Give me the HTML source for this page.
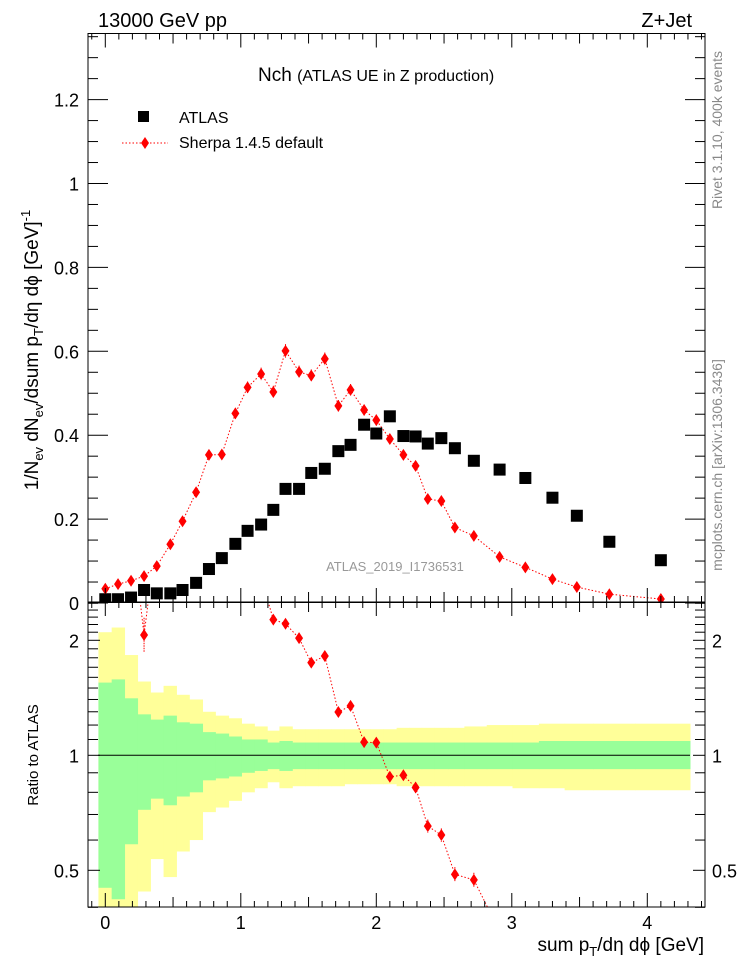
<!DOCTYPE html>
<html><head><meta charset="utf-8"><style>
html,body{margin:0;padding:0;background:#fff;width:746px;height:972px;overflow:hidden}
svg{display:block;font-family:"Liberation Sans",sans-serif;overflow:hidden}
</style></head><body>
<svg id="c" width="746" height="972">
<defs>
<clipPath id="cm"><rect x="88" y="33.5" width="617" height="569"/></clipPath>
<clipPath id="cr"><rect x="88" y="602" width="617" height="305"/></clipPath>
</defs>
<g id="bands" clip-path="url(#cr)"></g>
<g id="marks"></g>
<g id="axes"></g>
<text x="98" y="27" font-size="20">13000 GeV pp</text>
<text x="692" y="27" font-size="20" text-anchor="end">Z+Jet</text>
<text x="258" y="81" font-size="19">Nch <tspan font-size="16">(ATLAS UE in Z production)</tspan></text>
<rect x="138" y="111" width="11" height="11" fill="#000"/>
<text x="179" y="123" font-size="16">ATLAS</text>
<line x1="122" y1="143" x2="168" y2="143" stroke="red" stroke-dasharray="1.5,2"/>
<path d="M145,137 L149,143 L145,149 L141,143Z" fill="red"/>
<text x="179" y="148" font-size="16">Sherpa 1.4.5 default</text>
<text x="395" y="571" font-size="13" fill="#999" text-anchor="middle">ATLAS_2019_I1736531</text>
<text transform="translate(38,350) rotate(-90)" font-size="19" text-anchor="middle">1/N<tspan font-size="13" dy="5">ev</tspan><tspan dy="-5"> dN</tspan><tspan font-size="13" dy="5">ev</tspan><tspan dy="-5">/dsum p</tspan><tspan font-size="13" dy="5">T</tspan><tspan dy="-5">/dη dϕ  [GeV]</tspan><tspan font-size="13" dy="-8">-1</tspan></text>
<text transform="translate(38,755) rotate(-90)" font-size="15" text-anchor="middle">Ratio to ATLAS</text>
<text x="704" y="951" font-size="19" text-anchor="end">sum p<tspan font-size="13" dy="5">T</tspan><tspan dy="-5">/dη dϕ [GeV]</tspan></text>
<text transform="translate(722,130) rotate(-90)" font-size="14" fill="#888" text-anchor="middle">Rivet 3.1.10,  400k events</text>
<text transform="translate(722,465) rotate(-90)" font-size="14" fill="#888" text-anchor="middle">mcplots.cern.ch [arXiv:1306.3436]</text>
</svg>
<script>
const xs=[0,0.094,0.19,0.286,0.38,0.48,0.57,0.67,0.765,0.86,0.96,1.05,1.15,1.24,1.33,1.43,1.52,1.62,1.72,1.81,1.91,2.0,2.1,2.2,2.29,2.38,2.48,2.58,2.72,2.91,3.1,3.3,3.48,3.72,4.1];
const atlas=[0.009,0.009,0.013,0.031,0.023,0.023,0.031,0.048,0.081,0.107,0.141,0.172,0.187,0.222,0.272,0.272,0.31,0.32,0.362,0.377,0.425,0.404,0.445,0.398,0.397,0.38,0.393,0.369,0.339,0.318,0.298,0.251,0.208,0.146,0.102];
const sherpa=[0.034,0.045,0.053,0.064,0.088,0.14,0.195,0.264,0.353,0.354,0.452,0.514,0.546,0.503,0.601,0.551,0.542,0.582,0.47,0.508,0.46,0.436,0.391,0.353,0.327,0.248,0.243,0.18,0.16,0.11,0.085,0.057,0.038,0.021,0.0095];
const sherpaErr=[0.006,0.006,0.006,0.007,0.008,0.009,0.01,0.011,0.012,0.012,0.013,0.014,0.015,0.015,0.016,0.015,0.015,0.015,0.014,0.014,0.013,0.013,0.012,0.011,0.011,0.01,0.01,0.008,0.007,0.006,0.005,0.005,0.004,0.003,0.003];
const yelHi=[2.1,2.16,1.83,1.56,1.46,1.52,1.44,1.40,1.30,1.27,1.25,1.21,1.19,1.16,1.19,1.17,1.17,1.17,1.17,1.17,1.17,1.17,1.17,1.18,1.18,1.18,1.18,1.18,1.19,1.20,1.20,1.21,1.21,1.21,1.21];
const grnHi=[1.55,1.58,1.41,1.28,1.24,1.27,1.22,1.21,1.15,1.14,1.12,1.10,1.10,1.08,1.09,1.08,1.08,1.08,1.08,1.08,1.08,1.08,1.08,1.08,1.08,1.08,1.08,1.08,1.08,1.08,1.08,1.09,1.09,1.09,1.09];
const grnLo=[0.45,0.42,0.585,0.72,0.77,0.74,0.78,0.80,0.86,0.87,0.88,0.90,0.91,0.92,0.91,0.92,0.92,0.92,0.92,0.92,0.92,0.92,0.92,0.92,0.92,0.92,0.92,0.92,0.92,0.92,0.92,0.92,0.92,0.92,0.92];
const yelLo=[0.35,0.35,0.35,0.44,0.535,0.48,0.56,0.6,0.71,0.73,0.76,0.80,0.82,0.85,0.82,0.83,0.83,0.83,0.83,0.84,0.84,0.84,0.84,0.83,0.83,0.83,0.83,0.83,0.83,0.83,0.82,0.82,0.81,0.81,0.81];
const xTicks=[0,1,2,3,4];
const yTicks=[0,0.2,0.4,0.6,0.8,1,1.2];
const yTickLabels=["0","0.2","0.4","0.6","0.8","1","1.2"];
const rTicks=[0.5,1,2];

const NS="http://www.w3.org/2000/svg";
const X=v=>105.3+v*135.5;
const Y=v=>603-v*419.5;
const R=v=>755.3-Math.log2(v)*115;
function mk(p,t,a){const e=document.createElementNS(NS,t);for(const k in a)e.setAttribute(k,a[k]);p.appendChild(e);return e;}
const bands=document.getElementById('bands'),marks=document.getElementById('marks'),axes=document.getElementById('axes');
const edges=[];
edges.push(X(xs[0])-(X(xs[1])-X(xs[0]))/2-0.5);
for(let i=0;i<xs.length-1;i++)edges.push((X(xs[i])+X(xs[i+1]))/2);
edges.push(690);
for(let i=0;i<xs.length;i++){
 const w=edges[i+1]-edges[i];
 const y1=mk(bands,'rect',{x:edges[i],y:R(yelHi[i]),width:w+0.5,height:R(yelLo[i])-R(yelHi[i]),fill:'#ffff99'});
 
 
}
for(let i=0;i<xs.length;i++){
 const w=edges[i+1]-edges[i];
 const g=mk(bands,'rect',{x:edges[i],y:R(grnHi[i]),width:w+0.5,height:R(grnLo[i])-R(grnHi[i]),fill:'#99ff99'});
 
 
}
const ref=mk(marks,'line',{x1:98,x2:690,y1:R(1),y2:R(1),stroke:'#000','stroke-width':1});


const gm=mk(marks,'g',{'clip-path':'url(#cm)'});
const gr=mk(marks,'g',{'clip-path':'url(#cr)'});
let d='',dr='';
xs.forEach((x,i)=>{d+=(i?'L':'M')+X(x)+','+Y(sherpa[i]);dr+=(i?'L':'M')+X(x)+','+R(sherpa[i]/atlas[i]);});
const sl=mk(gm,'path',{d:d,fill:'none',stroke:'red','stroke-dasharray':'1.5,2'});


const srl=mk(gr,'path',{d:dr,fill:'none',stroke:'red','stroke-dasharray':'1.5,2'});


xs.forEach((x,i)=>{
 const a=mk(gm,'rect',{x:X(x)-6,y:Y(atlas[i])-6,width:12,height:12,fill:'#000'});
 
 
 const cx=X(x),cy=Y(sherpa[i]),e=sherpaErr[i]*419.5;
 mk(gm,'line',{x1:cx,x2:cx,y1:cy-e,y2:cy+e,stroke:'red','stroke-dasharray':'1.5,1'});
 const s=mk(gm,'path',{d:`M${cx},${cy-6}L${cx+4},${cy}L${cx},${cy+6}L${cx-4},${cy}Z`,fill:'red'});
 
 
 const rv=sherpa[i]/atlas[i],ry=R(rv),re=Math.abs(R(rv*(1+sherpaErr[i]/sherpa[i]))-ry);
 mk(gr,'line',{x1:cx,x2:cx,y1:ry-re,y2:ry+re,stroke:'red','stroke-dasharray':'1.5,1'});
 const sr=mk(gr,'path',{d:`M${cx},${ry-6}L${cx+4},${ry}L${cx},${ry+6}L${cx-4},${ry}Z`,fill:'red'});
 
 
});
const f1=mk(axes,'rect',{x:88,y:33.5,width:617,height:569,fill:'none',stroke:'#000'});


const f2=mk(axes,'rect',{x:88,y:602,width:617,height:305,fill:'none',stroke:'#000'});


for(let k=-1;k<=44;k++){
 const v=k/10,px=X(v);if(px<88||px>705)continue;
 const L=k%10===0?14:(k%5===0?10:6);
 [[33.5,1],[602,-1],[602,1],[907,-1]].forEach(([y0,s])=>mk(axes,'line',{x1:px,x2:px,y1:y0,y2:y0+s*L,stroke:'#000'}));
}
xTicks.forEach(v=>{const t=mk(axes,'text',{x:X(v),y:929,'font-size':18,'text-anchor':'middle'});t.textContent=v;
 
 });
for(let k=0;k<=27;k++){
 const v=k*0.05,py=Y(v);if(py<33.5)continue;
 const L=k%4===0?20:10;
 mk(axes,'line',{x1:88,x2:88+L,y1:py,y2:py,stroke:'#000'});
 mk(axes,'line',{x1:705,x2:705-L,y1:py,y2:py,stroke:'#000'});
}
yTicks.forEach((v,i)=>{const t=mk(axes,'text',{x:79,y:Y(v)+7,'font-size':18,'text-anchor':'end'});t.textContent=yTickLabels[i];
 
 });
const rMinor=[0.4,0.6,0.7,0.8,0.9,1.1,1.2,1.3,1.4,1.5,1.6,1.7,1.8,1.9,2.1,2.2,2.3,2.4,2.5];
rMinor.forEach(v=>{const py=R(v);mk(axes,'line',{x1:88,x2:98,y1:py,y2:py,stroke:'#000'});mk(axes,'line',{x1:705,x2:695,y1:py,y2:py,stroke:'#000'});});
rTicks.forEach(v=>{const py=R(v);
 mk(axes,'line',{x1:88,x2:100,y1:py,y2:py,stroke:'#000'});mk(axes,'line',{x1:705,x2:693,y1:py,y2:py,stroke:'#000'});
 const t=mk(axes,'text',{x:79,y:py+7,'font-size':18,'text-anchor':'end'});t.textContent=v;
 
 
 const t2=mk(axes,'text',{x:712,y:py+7,'font-size':18});t2.textContent=v;
 
 
});
</script>
</body></html>
